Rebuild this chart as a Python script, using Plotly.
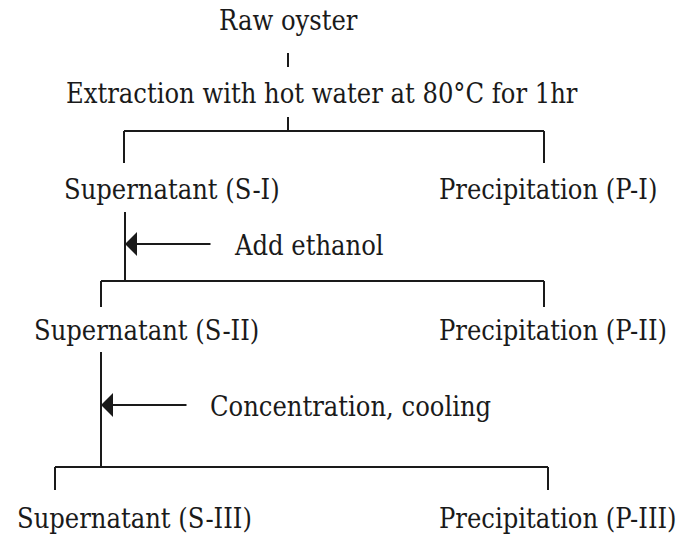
import plotly.graph_objects as go

# ---- data (text content of the flow chart) ----
top_steps = ["Raw oyster", "Extraction with hot water at 80°C for 1hr"]
supernatants = ["Supernatant (S-I)", "Supernatant (S-II)", "Supernatant (S-III)"]
precipitates = ["Precipitation (P-I)", "Precipitation (P-II)", "Precipitation (P-III)"]
treatments = ["Add ethanol", "Concentration, cooling"]

# ---- layout geometry (pixel coordinates on a 688 x 535 canvas) ----
W, H = 688, 535
FONT = dict(family="DejaVu Serif Condensed, DejaVu Serif, serif", size=27, color="#1a1a1a")
LINE = dict(color="#1a1a1a", width=2)

top_pos = [(288, 20, "center"), (64, 93, "left")]
stage_y = [189, 330, 518]
sup_x = [62, 32, 15]
pre_x = [437, 437, 437]

bracket_y = [131, 281, 467]
bracket_l = [124, 101, 55]
bracket_r = [544, 544, 548]
bracket_bottom = [163, 307, 490]

stems = [(288, 53, 67), (288, 117, 131), (125, 212, 281), (101, 352, 467)]

arrow_y = [244, 405]
arrow_head_x = [125, 101]
arrow_tail_x = [212, 188]
treat_x = [232, 208]

fig = go.Figure()
fig.add_trace(go.Scatter(x=[0, W], y=[0, H], mode="markers", marker=dict(opacity=0), hoverinfo="skip", showlegend=False))

shapes = []
for x, y0, y1 in stems:
    shapes.append(dict(type="line", x0=x, x1=x, y0=y0, y1=y1, line=LINE))
for by, bl, br, bb in zip(bracket_y, bracket_l, bracket_r, bracket_bottom):
    shapes.append(dict(type="line", x0=bl, x1=br, y0=by, y1=by, line=LINE))
    shapes.append(dict(type="line", x0=bl, x1=bl, y0=by, y1=bb, line=LINE))
    shapes.append(dict(type="line", x0=br, x1=br, y0=by, y1=bb, line=LINE))

annotations = []
for txt, (x, y, anc) in zip(top_steps, top_pos):
    annotations.append(dict(x=x, y=y, text=txt, xanchor=anc, yanchor="middle", showarrow=False, font=FONT))
for txt, x, y in zip(supernatants, sup_x, stage_y):
    annotations.append(dict(x=x, y=y, text=txt, xanchor="left", yanchor="middle", showarrow=False, font=FONT))
for txt, x, y in zip(precipitates, pre_x, stage_y):
    annotations.append(dict(x=x, y=y, text=txt, xanchor="left", yanchor="middle", showarrow=False, font=FONT))
for txt, x, y in zip(treatments, treat_x, arrow_y):
    annotations.append(dict(x=x, y=y + 1, text=txt, xanchor="left", yanchor="middle", showarrow=False, font=FONT))
for y, hx, tx in zip(arrow_y, arrow_head_x, arrow_tail_x):
    annotations.append(dict(x=hx, y=y, ax=tx, ay=y, axref="x", ayref="y", xref="x", yref="y",
                            text="", showarrow=True, arrowhead=1, arrowsize=2, arrowwidth=2,
                            arrowcolor="#1a1a1a", standoff=0))

fig.update_layout(
    width=W, height=H, margin=dict(l=0, r=0, t=0, b=0),
    paper_bgcolor="white", plot_bgcolor="white",
    xaxis=dict(range=[0, W], visible=False, fixedrange=True),
    yaxis=dict(range=[H, 0], visible=False, fixedrange=True),
    shapes=shapes, annotations=annotations, showlegend=False,
)
fig.write_html("out.html", config={"displayModeBar": False},
               post_script="document.body.style.margin='0';document.body.style.overflow='hidden';")
